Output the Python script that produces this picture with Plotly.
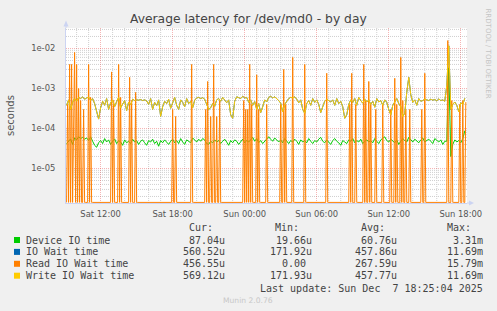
import math
from datetime import datetime, timedelta
import plotly.graph_objects as go

# ---------------- data ----------------
sample_start = datetime(2025, 12, 6, 9, 10)   # first sample
view_start = datetime(2025, 12, 6, 9, 7)
view_end = datetime(2025, 12, 7, 18, 31)

# 10-minute samples, microseconds
device_io_us = [
    42, 48, 55, 40, 58, 52, 62, 56, 60, 54,
    58, 50, 62, 48, 38, 34, 44, 50, 42, 56,
    46, 52, 40, 48, 55, 42, 50, 46, 38, 52,
    44, 48, 42, 54, 46, 50, 40, 48, 52, 44,
    38, 50, 46, 54, 42, 48, 36, 50, 44, 52,
    46, 40, 48, 54, 44, 50, 42, 56, 46, 40,
    52, 48, 44, 58, 50, 46, 54, 48, 56, 52,
    42, 40, 48, 44, 52, 46, 50, 42, 48, 54,
    46, 38, 50, 44, 52, 48, 40, 46, 54, 44,
    50, 46, 52, 60, 48, 56, 44, 50, 42, 48,
    52, 62, 54, 48, 58, 50, 46, 52, 44, 56,
    48, 42, 50, 46, 54, 48, 40, 52, 46, 50,
    44, 56, 48, 42, 50, 46, 54, 60, 48, 44,
    52, 46, 40, 50, 56, 48, 44, 38, 50, 46,
    42, 52, 48, 56, 44, 50, 46, 54, 42, 48,
    52, 46, 50, 44, 56, 48, 42, 52, 58, 62,
    50, 46, 54, 48, 44, 52, 40, 48, 56, 50,
    46, 60, 52, 46, 54, 48, 44, 52, 58, 46,
    50, 54, 48, 42, 56, 50, 46, 52, 40, 48,
    48, 3310, 20, 40, 52, 46, 50, 44, 56, 87,
]

write_wait_us = [
    380, 520, 300, 450, 560, 480, 600, 560, 620, 540,
    580, 610, 500, 560, 420, 250, 172, 330, 480, 380,
    560, 300, 440, 520, 350, 470, 600, 330, 420, 500,
    280, 460, 390, 540, 500, 520, 510, 530, 500, 520,
    490, 400, 560, 300, 450, 370, 520, 200, 350, 480,
    420, 540, 320, 460, 600, 380, 300, 520, 450, 350,
    560, 420, 480, 330, 510, 580, 600, 560, 590, 540,
    380, 300, 330, 420, 360, 520, 560, 480, 600, 500,
    440, 520, 220, 180, 480, 620, 600, 560, 640, 580,
    600, 450, 520, 380, 470, 300, 420, 250, 350, 520,
    460, 600, 640, 580, 620, 560, 500, 430, 260, 400,
    480, 560, 600, 580, 620, 540, 440, 520, 300, 240,
    420, 500, 380, 560, 450, 520, 400, 250, 350, 480,
    540, 500, 460, 520, 380, 560, 420, 480, 350, 180,
    220, 400, 520, 450, 560, 380, 600, 500, 430, 540,
    460, 520, 400, 480, 340, 560, 460, 500, 380, 520,
    450, 300, 220, 380, 480, 560, 420, 350, 200, 240,
    800, 1900, 700, 450, 520, 380, 560, 480, 500, 540,
    520, 500, 540, 510, 530, 490, 550, 500, 520, 480,
    1200, 11690, 300, 400, 460, 380, 260, 440, 400, 569,
]

# total IO wait coincides with write wait (hidden underneath it)
io_wait_us = list(write_wait_us)

# read IO wait: 5-minute slots, zero except these
read_slot_count = 400
read_slots = [1, 3, 5, 7, 8, 10, 12, 14, 17, 22, 24, 45, 47, 52, 54, 63, 65, 69,
              106, 109, 125, 139, 141, 144, 147, 150, 153, 177, 179, 181, 183,
              185, 190, 192, 200, 214, 217, 219, 226, 238, 260, 283, 285, 289,
              297, 299, 302, 304, 309, 316, 324, 328, 330, 334, 336, 339, 343,
              355, 358, 381, 385, 393, 396, 399]
read_values_s = [4e-4, 4e-3, 4e-3, 1.2e-3, 8e-3, 4e-3, 1e-3, 5e-4, 3e-4, 4e-3, 6e-4,
                 2.6e-3, 5e-4, 4e-3, 6e-4, 1.9e-3, 5e-4, 8e-4,
                 3e-4, 2e-4, 4e-3, 3e-4, 1.5e-3, 2e-4, 4e-3, 2e-4, 5e-4, 5e-4, 3e-4,
                 3e-4, 4e-3, 4e-4, 2.2e-3, 3e-4, 4e-4, 4e-4, 3e-3, 4e-4, 6e-3, 4e-3,
                 2.4e-3, 4e-4, 2.4e-3, 4e-4, 4e-3, 5e-4, 1.5e-3, 4e-4, 3e-4, 4e-4,
                 3e-4, 1.8e-3, 4e-4, 6e-3, 5e-4, 3e-4, 3e-4, 3e-4, 2.4e-3, 1.579e-2,
                 5e-4, 4e-4, 5e-4, 4.5655e-4]

x_tick_times = ["2025-12-06 12:00", "2025-12-06 18:00", "2025-12-07 00:00",
                "2025-12-07 06:00", "2025-12-07 12:00", "2025-12-07 18:00"]
x_tick_labels = ["Sat 12:00", "Sat 18:00", "Sun 00:00", "Sun 06:00", "Sun 12:00", "Sun 18:00"]
y_tick_vals = [1e-5, 1e-4, 1e-3, 1e-2]
y_tick_labels = ["1e-05", "1e-04", "1e-03", "1e-02"]

legend_names = ["Device IO time", "IO Wait time", "Read IO Wait time", "Write IO Wait time"]
legend_colors = ["#00CC00", "#0066B3", "#FF8000", "#FFCC00"]
legend_cur = ["87.04u", "560.52u", "456.55u", "569.12u"]
legend_min = ["19.66u", "171.92u", "0.00 ", "171.93u"]
legend_avg = ["60.76u", "457.86u", "267.59u", "457.77u"]
legend_max = ["3.31m", "11.69m", "15.79m", "11.69m"]

title_text = "Average latency for /dev/md0 - by day"
last_update = "Last update: Sun Dec\u00a0\u00a07 18:25:04 2025"

# ---------------- geometry ----------------
W, H = 497, 311
PL, PR, PT, PB = 66, 467, 28, 203
LOG_LO = -5 - (PB - 168.5) / 40.0
LOG_HI = -5 + (168.5 - PT) / 40.0


def px_x(p):
    return (p - PL) / (PR - PL)


def px_y(p):
    return (PB - p) / (PB - PT)


t10 = [sample_start + timedelta(minutes=10 * j) for j in range(len(device_io_us))]
t5 = [sample_start + timedelta(minutes=5 * i) for i in range(read_slot_count)]

read_series = [0.0] * read_slot_count
for s, v in zip(read_slots, read_values_s):
    read_series[s] = v
floor_val = 10 ** (LOG_LO + 0.6 / 40.0)
read_plot = [v if v > 0 else floor_val for v in read_series]

fig = go.Figure()
series = [
    (t10, [v * 1e-6 for v in device_io_us], legend_colors[0]),
    (t10, [v * 1e-6 for v in io_wait_us], legend_colors[1]),
    (t5, read_plot, legend_colors[2]),
    (t10, [v * 1e-6 for v in write_wait_us], legend_colors[3]),
]
for xs, ys, col in series:
    fig.add_trace(go.Scatter(x=xs, y=ys, mode="lines",
                             line=dict(color=col, width=1),
                             hoverinfo="skip", showlegend=False))

AXIS_COL = "#ccd4f2"
MAJOR_GRID = "rgba(235,90,90,0.45)"
MINOR_GRID = "#cfcfcf"
TXT = "#555555"

shapes = []
# minor horizontal log grid
for d in range(-7, 0):
    for k in range(2, 10):
        lv = math.log10(k * 10 ** d)
        if LOG_LO < lv < LOG_HI:
            f = (lv - LOG_LO) / (LOG_HI - LOG_LO)
            shapes.append(dict(type="line", xref="x", yref="paper",
                               x0=view_start, x1=view_end, y0=f, y1=f,
                               line=dict(color=MINOR_GRID, width=1, dash="1px,1px"),
                               layer="below"))
# minor vertical hourly grid (skip the 6-hourly major lines)
hour = datetime(2025, 12, 6, 10, 0)
while hour < view_end:
    if hour.hour % 6 != 0:
        shapes.append(dict(type="line", xref="x", yref="paper",
                           x0=hour, x1=hour, y0=0, y1=1,
                           line=dict(color=MINOR_GRID, width=1, dash="1px,1px"),
                           layer="below"))
    hour += timedelta(hours=1)

# axis arrows
shapes.append(dict(type="line", xref="paper", yref="paper",
                   x0=px_x(PL), x1=px_x(PL), y0=px_y(PT), y1=px_y(25),
                   line=dict(color=AXIS_COL, width=1)))
shapes.append(dict(type="path", xref="paper", yref="paper",
                   path=f"M {px_x(63.5)} {px_y(26.5)} L {px_x(66)} {px_y(20.5)} L {px_x(68.5)} {px_y(26.5)} Z",
                   fillcolor=AXIS_COL, line=dict(width=0)))
shapes.append(dict(type="line", xref="paper", yref="paper",
                   x0=px_x(PR), x1=px_x(470), y0=px_y(PB), y1=px_y(PB),
                   line=dict(color=AXIS_COL, width=1)))
shapes.append(dict(type="path", xref="paper", yref="paper",
                   path=f"M {px_x(469)} {px_y(200.5)} L {px_x(474)} {px_y(203)} L {px_x(469)} {px_y(205.5)} Z",
                   fillcolor=AXIS_COL, line=dict(width=0)))

annotations = []


def ann(text, x, y, size, color, family="DejaVu Sans", xanchor="center",
        yanchor="middle", angle=0):
    annotations.append(dict(text=text, x=px_x(x), y=px_y(y), xref="paper", yref="paper",
                            showarrow=False, xanchor=xanchor, yanchor=yanchor,
                            textangle=angle, borderpad=0, borderwidth=0,
                            font=dict(family=family, size=size, color=color)))


ann(title_text, 248.5, 19, 12.3, "#444444")
ann("seconds", 10.5, 115.5, 10, TXT, angle=-90)
ann("RRDTOOL / TOBI OETIKER", 488, 53.5, 7, "#c4c4c4", angle=90)
ann("Munin 2.0.76", 248, 300.5, 7.6, "#c8c8c8")

MONO = "DejaVu Sans Mono"
CW = 6.02
row_y = [240.0, 251.9, 263.8, 275.7]
head_y = 227.5
for txt, cx in zip(["Cur:", "Min:", "Avg:", "Max:"], [201, 287, 372.5, 458.5]):
    ann(txt, cx, head_y, 10, "#444444", family=MONO)

col_right = [225, 312, 397, 483]
for r in range(4):
    y = row_y[r]
    shapes.append(dict(type="rect", xref="paper", yref="paper",
                       x0=px_x(14), x1=px_x(20), y0=px_y(y - 3), y1=px_y(y + 3),
                       fillcolor=legend_colors[r], line=dict(width=0)))
    ann(legend_names[r], 26, y, 10, "#444444", family=MONO, xanchor="left")
    for vals, xr in zip([legend_cur, legend_min, legend_avg, legend_max], col_right):
        s = vals[r]
        trail = len(s) - len(s.rstrip())
        ann(s.rstrip(), xr - trail * CW, y, 10, "#444444", family=MONO, xanchor="right")

ann(last_update, 483, 288, 10, "#444444", family=MONO, xanchor="right")

fig.update_layout(
    width=W, height=H, autosize=False,
    margin=dict(l=PL, r=W - PR, t=PT, b=H - PB, pad=0),
    paper_bgcolor="#F0F0F0", plot_bgcolor="#FFFFFF",
    showlegend=False,
    shapes=shapes, annotations=annotations,
    xaxis=dict(type="date", range=[view_start, view_end],
               tickmode="array", tickvals=x_tick_times, ticktext=x_tick_labels,
               showgrid=True, gridcolor=MAJOR_GRID, griddash="1px,1px", gridwidth=1,
               ticks="", showline=True, linecolor=AXIS_COL, linewidth=1,
               zeroline=False, ticklabelstandoff=3,
               tickfont=dict(family="DejaVu Sans", size=8.4, color=TXT)),
    yaxis=dict(type="log", range=[LOG_LO, LOG_HI],
               tickmode="array", tickvals=y_tick_vals, ticktext=y_tick_labels,
               showgrid=True, gridcolor=MAJOR_GRID, griddash="1px,1px", gridwidth=1,
               ticks="", showline=True, linecolor=AXIS_COL, linewidth=1,
               zeroline=False, ticklabelstandoff=8,
               tickfont=dict(family="DejaVu Sans", size=8.4, color=TXT)),
)

fig.write_html("out.html")
